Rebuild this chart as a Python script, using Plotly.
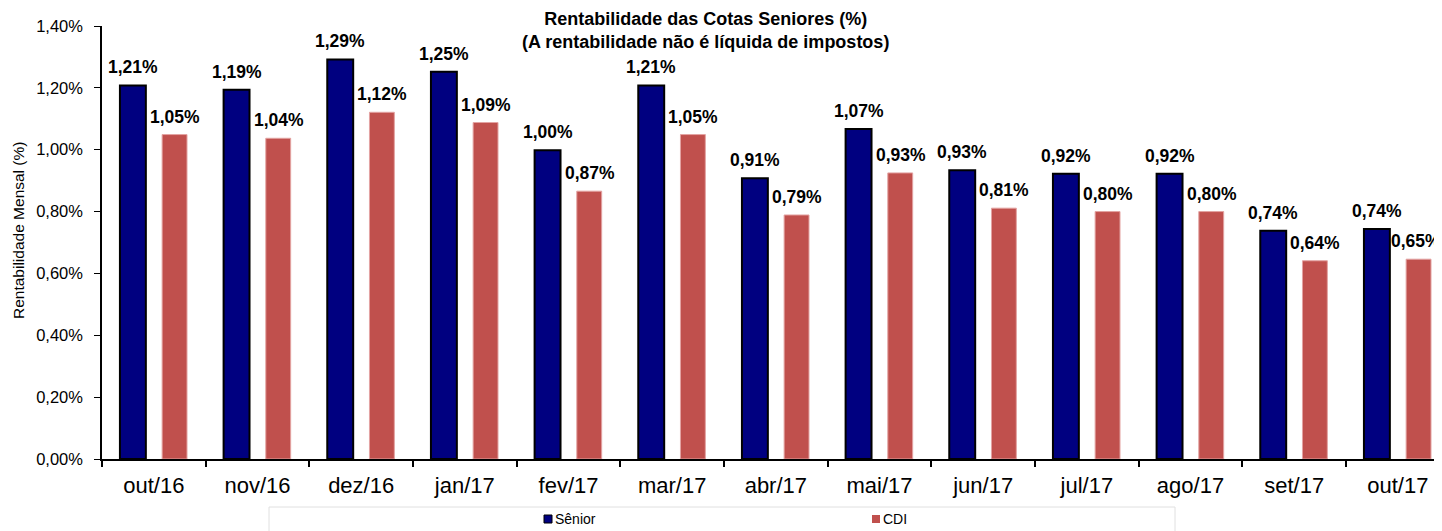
import plotly.graph_objects as go

categories = ["out/16", "nov/16", "dez/16", "jan/17", "fev/17", "mar/17", "abr/17",
              "mai/17", "jun/17", "jul/17", "ago/17", "set/17", "out/17"]
series_names = ["Sênior", "CDI"]
senior = [1.208, 1.194, 1.292, 1.252, 0.998, 1.208, 0.908, 1.067, 0.934, 0.922, 0.922, 0.738, 0.744]
cdi = [1.049, 1.037, 1.121, 1.088, 0.866, 1.049, 0.789, 0.925, 0.811, 0.80, 0.80, 0.641, 0.646]

FONT = "Liberation Sans, Arial, sans-serif"
OFF = 8  # default page margin of the browser body
SCREEN_W, SCREEN_H = 1442, 531
W, H = SCREEN_W - OFF, SCREEN_H - OFF
L, R, T, B = 102 - OFF, 0, 26 - OFF, 72
PW, PH = W - L - R, H - T - B

def px_x(px):
    return (px - OFF - L) / PW

def px_y(py):
    return (OFF + H - B - py) / PH

def fmt(v):
    return f"{v:.2f}".replace(".", ",") + "%"

SEN_COLOR = "#000080"
CDI_COLOR = "#C0504D"

fig = go.Figure()
fig.add_trace(go.Bar(
    x=categories, y=senior, name=series_names[0],
    marker=dict(color=SEN_COLOR, line=dict(color="#000000", width=2)),
    offset=-0.327, width=0.25, showlegend=False,
))
fig.add_trace(go.Bar(
    x=categories, y=cdi, name=series_names[1],
    marker=dict(color=CDI_COLOR, line=dict(color="#E3A3A2", width=1)),
    offset=0.08, width=0.24, showlegend=False,
))

label_font = dict(family=FONT, size=17.5, color="black", weight="bold")
annotations = []
for c, v in zip(categories, senior):
    annotations.append(dict(x=c, y=v, xref="x", yref="y", text=fmt(v), showarrow=False,
                            xshift=-21, yshift=6, yanchor="bottom", font=label_font))
n = len(categories)
for i, (c, v) in enumerate(zip(categories, cdi)):
    annotations.append(dict(x=c, y=v, xref="x", yref="y", text=fmt(v), showarrow=False,
                            xshift=(18 if i == n - 1 else 21), yshift=6, yanchor="bottom",
                            font=label_font))
# title
annotations.append(dict(x=px_x(705), y=px_y(31), xref="paper", yref="paper",
                        text="Rentabilidade das Cotas Seniores (%)<br>(A rentabilidade não é líquida de impostos)",
                        showarrow=False, yanchor="middle", xanchor="center",
                        font=dict(family=FONT, size=18, color="black", weight="bold")))
# y axis title
annotations.append(dict(x=px_x(18), y=px_y(231), xref="paper", yref="paper",
                        text="Rentabilidade Mensal (%)", textangle=-90, showarrow=False,
                        xanchor="center", yanchor="middle",
                        font=dict(family=FONT, size=15.5, color="black")))
# legend texts
annotations.append(dict(x=px_x(553), y=px_y(519), xref="paper", yref="paper",
                        text=series_names[0], showarrow=False, xanchor="left", yanchor="middle",
                        font=dict(family=FONT, size=14, color="black")))
annotations.append(dict(x=px_x(881), y=px_y(519), xref="paper", yref="paper",
                        text=series_names[1], showarrow=False, xanchor="left", yanchor="middle",
                        font=dict(family=FONT, size=14, color="black")))

shapes = [
    dict(type="rect", xref="paper", yref="paper",
         x0=px_x(269), x1=px_x(1175), y0=px_y(507), y1=px_y(545),
         line=dict(color="#E0E0E0", width=1), fillcolor="rgba(0,0,0,0)"),
    dict(type="rect", xref="paper", yref="paper",
         x0=px_x(544), x1=px_x(552), y0=px_y(515), y1=px_y(523),
         line=dict(color="black", width=1), fillcolor=SEN_COLOR),
    dict(type="rect", xref="paper", yref="paper",
         x0=px_x(872), x1=px_x(880), y0=px_y(515), y1=px_y(523),
         line=dict(width=0), fillcolor=CDI_COLOR),
]

fig.update_layout(
    width=W, height=H,
    margin=dict(l=L, r=R, t=T, b=B, autoexpand=False),
    paper_bgcolor="white", plot_bgcolor="white",
    separators=",.",
    barmode="overlay",
    font=dict(family=FONT, color="black"),
    annotations=annotations,
    shapes=shapes,
    showlegend=False,
)
fig.update_xaxes(
    type="category", range=[-0.5, 12.426], automargin=False,
    showline=True, linecolor="black", linewidth=2,
    ticks="outside", tickson="boundaries", ticklen=6, tickcolor="black", tickwidth=1.5,
    tickfont=dict(family=FONT, size=22, color="black"), ticklabelstandoff=6, showgrid=False,
)
fig.update_yaxes(
    range=[0, 1.4], dtick=0.2, tickformat=".2f", ticksuffix="%", automargin=False,
    showline=True, linecolor="black", linewidth=1.5,
    ticks="outside", ticklen=6, tickcolor="black",
    tickfont=dict(family=FONT, size=16.5, color="black"), ticklabelstandoff=8,
    showgrid=False, zeroline=False,
)

fig.write_html("out.html")
